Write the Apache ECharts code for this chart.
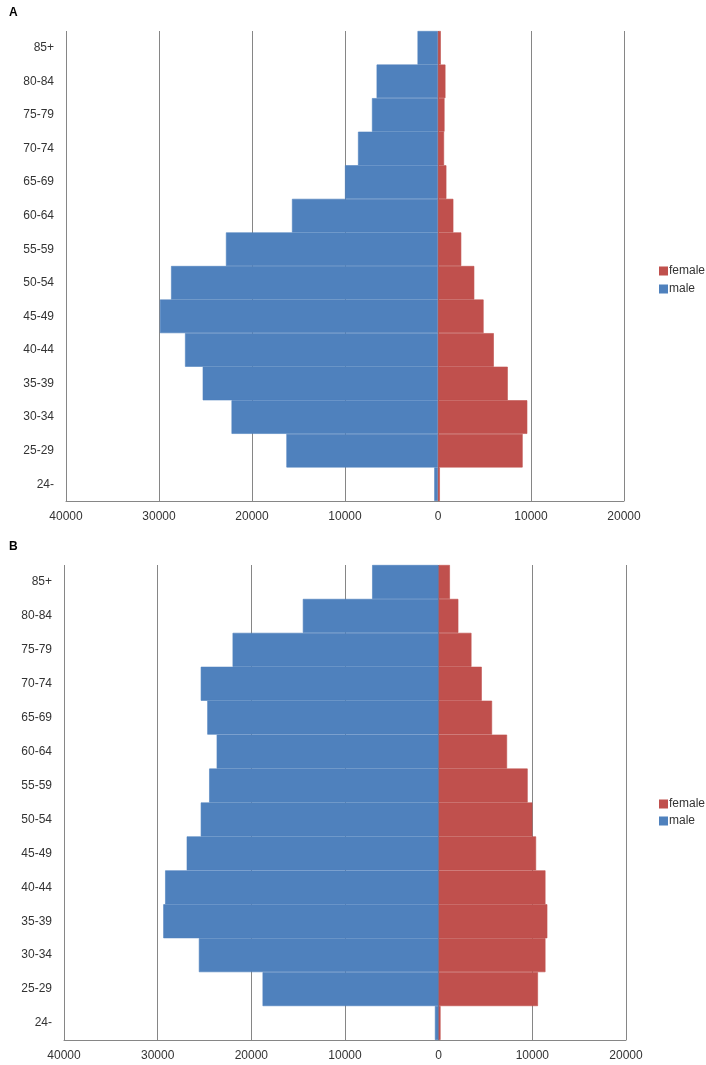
<!DOCTYPE html>
<html>
<head>
<meta charset="utf-8">
<script src="https://cdn.jsdelivr.net/npm/echarts@6/dist/echarts.min.js"></script>
<style>
html,body{margin:0;padding:0;background:#fff;}
#main{width:706px;height:1065px;}
</style>
</head>
<body>
<div id="main"></div>
<script>
// Age groups, bottom to top
const ageGroups = ['24-','25-29','30-34','35-39','40-44','45-49','50-54','55-59','60-64','65-69','70-74','75-79','80-84','85+'];
const xTicks = [-40000,-30000,-20000,-10000,0,10000,20000];

// Panel A
const maleA   = [400,16300,22200,25300,27200,29900,28700,22800,15700,10000,8600,7100,6600,2200];
const femaleA = [200,9100,9600,7500,6000,4900,3900,2500,1650,900,650,700,800,300];

// Panel B
const maleB   = [400,18800,25600,29400,29200,26900,25400,24500,23700,24700,25400,22000,14500,7100];
const femaleB = [200,10600,11400,11600,11400,10400,10000,9500,7300,5700,4600,3500,2100,1200];

const BLUE = '#4F81BD', RED = '#C0504D';
const font = 'Liberation Sans, Arial, sans-serif';
const TXT = '#333';

function xAxis(gridIndex){
  return {
    type:'value', gridIndex, min:-40000, max:20000, interval:10000,
    axisLine:{show:true, lineStyle:{color:'#868686'}},
    axisTick:{show:false},
    axisLabel:{formatter:v=>String(Math.abs(v)), color:TXT, fontFamily:font, fontSize:12, margin:10},
    splitLine:{show:true, lineStyle:{color:'#868686', width:1}}
  };
}
function yAxis(gridIndex){
  return {
    type:'category', gridIndex, data:ageGroups,
    axisLine:{show:false}, axisTick:{show:false},
    axisLabel:{color:TXT, fontFamily:font, fontSize:12, margin:12},
    splitLine:{show:false}
  };
}
function bars(name, data, color, idx, stack){
  return {
    name, type:'bar', xAxisIndex:idx, yAxisIndex:idx, stack,
    data, barCategoryGap:'0%', barGap:'-100%',
    itemStyle:{color, borderColor:color, borderWidth:0.6},
    animation:false
  };
}

const chart = echarts.init(document.getElementById('main'), null, {renderer:'canvas'});
chart.setOption({
  backgroundColor:'#fff',
  animation:false,
  title:[
    {text:'A', left:4, top:2, textStyle:{fontFamily:font, fontSize:12, fontWeight:'bold', color:'#000'}},
    {text:'B', left:4, top:536, textStyle:{fontFamily:font, fontSize:12, fontWeight:'bold', color:'#000'}}
  ],
  grid:[
    {left:66, right:82, top:31, height:470},
    {left:64, right:80, top:565, height:475}
  ],
  xAxis:[xAxis(0), xAxis(1)],
  yAxis:[yAxis(0), yAxis(1)],
  legend:[
    {orient:'vertical', left:654, top:260, itemWidth:7, itemHeight:7, itemGap:6, icon:'rect',
     data:['female','male'], textStyle:{fontFamily:font, fontSize:12, color:TXT, padding:[0,0,0,-3]}, selectedMode:false},
    {orient:'vertical', left:654, top:793, itemWidth:7, itemHeight:7, itemGap:5, icon:'rect',
     data:['female','male'], textStyle:{fontFamily:font, fontSize:12, color:TXT, padding:[0,0,0,-3]}, selectedMode:false}
  ],
  series:[
    bars('male', maleA.map(v=>-v), BLUE, 0, 'a'),
    bars('female', femaleA, RED, 0, 'a'),
    bars('male', maleB.map(v=>-v), BLUE, 1, 'b'),
    bars('female', femaleB, RED, 1, 'b')
  ]
});
</script>
</body>
</html>
